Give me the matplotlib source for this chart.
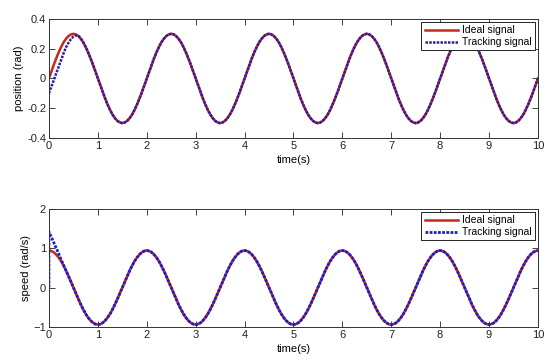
import numpy as np
import matplotlib
matplotlib.use('Agg')
import matplotlib.pyplot as plt

# 時間軸 (0.05 s 刻み)
t = np.arange(0, 201) * 0.05

# 位置 (rad) - 理想信号
pos_ideal = [
    0.000, 0.047, 0.093, 0.136, 0.176, 0.212, 0.243, 0.267, 0.285, 0.296, 0.300, 0.296, 0.285, 0.267, 0.243, 0.212, 0.176, 0.136, 0.093, 0.047,
    0.000, -0.047, -0.093, -0.136, -0.176, -0.212, -0.243, -0.267, -0.285, -0.296, -0.300, -0.296, -0.285, -0.267, -0.243, -0.212, -0.176, -0.136, -0.093, -0.047,
    0.000, 0.047, 0.093, 0.136, 0.176, 0.212, 0.243, 0.267, 0.285, 0.296, 0.300, 0.296, 0.285, 0.267, 0.243, 0.212, 0.176, 0.136, 0.093, 0.047,
    0.000, -0.047, -0.093, -0.136, -0.176, -0.212, -0.243, -0.267, -0.285, -0.296, -0.300, -0.296, -0.285, -0.267, -0.243, -0.212, -0.176, -0.136, -0.093, -0.047,
    0.000, 0.047, 0.093, 0.136, 0.176, 0.212, 0.243, 0.267, 0.285, 0.296, 0.300, 0.296, 0.285, 0.267, 0.243, 0.212, 0.176, 0.136, 0.093, 0.047,
    0.000, -0.047, -0.093, -0.136, -0.176, -0.212, -0.243, -0.267, -0.285, -0.296, -0.300, -0.296, -0.285, -0.267, -0.243, -0.212, -0.176, -0.136, -0.093, -0.047,
    0.000, 0.047, 0.093, 0.136, 0.176, 0.212, 0.243, 0.267, 0.285, 0.296, 0.300, 0.296, 0.285, 0.267, 0.243, 0.212, 0.176, 0.136, 0.093, 0.047,
    0.000, -0.047, -0.093, -0.136, -0.176, -0.212, -0.243, -0.267, -0.285, -0.296, -0.300, -0.296, -0.285, -0.267, -0.243, -0.212, -0.176, -0.136, -0.093, -0.047,
    0.000, 0.047, 0.093, 0.136, 0.176, 0.212, 0.243, 0.267, 0.285, 0.296, 0.300, 0.296, 0.285, 0.267, 0.243, 0.212, 0.176, 0.136, 0.093, 0.047,
    0.000, -0.047, -0.093, -0.136, -0.176, -0.212, -0.243, -0.267, -0.285, -0.296, -0.300, -0.296, -0.285, -0.267, -0.243, -0.212, -0.176, -0.136, -0.093, -0.047,
    0.000,
]

# 位置 (rad) - 追従信号
pos_track = [
    -0.100, -0.055, -0.010, 0.035, 0.080, 0.125, 0.170, 0.210, 0.240, 0.265, 0.282, 0.290, 0.288, 0.270, 0.245, 0.212, 0.176, 0.136, 0.093, 0.047,
    0.000, -0.047, -0.093, -0.136, -0.176, -0.212, -0.243, -0.267, -0.285, -0.296, -0.300, -0.296, -0.285, -0.267, -0.243, -0.212, -0.176, -0.136, -0.093, -0.047,
    0.000, 0.047, 0.093, 0.136, 0.176, 0.212, 0.243, 0.267, 0.285, 0.296, 0.300, 0.296, 0.285, 0.267, 0.243, 0.212, 0.176, 0.136, 0.093, 0.047,
    0.000, -0.047, -0.093, -0.136, -0.176, -0.212, -0.243, -0.267, -0.285, -0.296, -0.300, -0.296, -0.285, -0.267, -0.243, -0.212, -0.176, -0.136, -0.093, -0.047,
    0.000, 0.047, 0.093, 0.136, 0.176, 0.212, 0.243, 0.267, 0.285, 0.296, 0.300, 0.296, 0.285, 0.267, 0.243, 0.212, 0.176, 0.136, 0.093, 0.047,
    0.000, -0.047, -0.093, -0.136, -0.176, -0.212, -0.243, -0.267, -0.285, -0.296, -0.300, -0.296, -0.285, -0.267, -0.243, -0.212, -0.176, -0.136, -0.093, -0.047,
    0.000, 0.047, 0.093, 0.136, 0.176, 0.212, 0.243, 0.267, 0.285, 0.296, 0.300, 0.296, 0.285, 0.267, 0.243, 0.212, 0.176, 0.136, 0.093, 0.047,
    0.000, -0.047, -0.093, -0.136, -0.176, -0.212, -0.243, -0.267, -0.285, -0.296, -0.300, -0.296, -0.285, -0.267, -0.243, -0.212, -0.176, -0.136, -0.093, -0.047,
    0.000, 0.047, 0.093, 0.136, 0.176, 0.212, 0.243, 0.267, 0.285, 0.296, 0.300, 0.296, 0.285, 0.267, 0.243, 0.212, 0.176, 0.136, 0.093, 0.047,
    0.000, -0.047, -0.093, -0.136, -0.176, -0.212, -0.243, -0.267, -0.285, -0.296, -0.300, -0.296, -0.285, -0.267, -0.243, -0.212, -0.176, -0.136, -0.093, -0.047,
    0.000,
]

# 速度 (rad/s) - 理想信号
spd_ideal = [
    0.942, 0.930, 0.896, 0.839, 0.762, 0.668, 0.554, 0.428, 0.291, 0.147, 0.000, -0.147, -0.291, -0.428, -0.554, -0.668, -0.762, -0.839, -0.896, -0.930,
    -0.942, -0.930, -0.896, -0.839, -0.762, -0.668, -0.554, -0.428, -0.291, -0.147, 0.000, 0.147, 0.291, 0.428, 0.554, 0.668, 0.762, 0.839, 0.896, 0.930,
    0.942, 0.930, 0.896, 0.839, 0.762, 0.668, 0.554, 0.428, 0.291, 0.147, 0.000, -0.147, -0.291, -0.428, -0.554, -0.668, -0.762, -0.839, -0.896, -0.930,
    -0.942, -0.930, -0.896, -0.839, -0.762, -0.668, -0.554, -0.428, -0.291, -0.147, 0.000, 0.147, 0.291, 0.428, 0.554, 0.668, 0.762, 0.839, 0.896, 0.930,
    0.942, 0.930, 0.896, 0.839, 0.762, 0.668, 0.554, 0.428, 0.291, 0.147, 0.000, -0.147, -0.291, -0.428, -0.554, -0.668, -0.762, -0.839, -0.896, -0.930,
    -0.942, -0.930, -0.896, -0.839, -0.762, -0.668, -0.554, -0.428, -0.291, -0.147, 0.000, 0.147, 0.291, 0.428, 0.554, 0.668, 0.762, 0.839, 0.896, 0.930,
    0.942, 0.930, 0.896, 0.839, 0.762, 0.668, 0.554, 0.428, 0.291, 0.147, 0.000, -0.147, -0.291, -0.428, -0.554, -0.668, -0.762, -0.839, -0.896, -0.930,
    -0.942, -0.930, -0.896, -0.839, -0.762, -0.668, -0.554, -0.428, -0.291, -0.147, 0.000, 0.147, 0.291, 0.428, 0.554, 0.668, 0.762, 0.839, 0.896, 0.930,
    0.942, 0.930, 0.896, 0.839, 0.762, 0.668, 0.554, 0.428, 0.291, 0.147, 0.000, -0.147, -0.291, -0.428, -0.554, -0.668, -0.762, -0.839, -0.896, -0.930,
    -0.942, -0.930, -0.896, -0.839, -0.762, -0.668, -0.554, -0.428, -0.291, -0.147, 0.000, 0.147, 0.291, 0.428, 0.554, 0.668, 0.762, 0.839, 0.896, 0.930,
    0.942,
]

# 速度 (rad/s) - 追従信号 (t=0 で 0 から立ち上がる点を先頭に追加)
t_spd_track = np.r_[0.0, t]
spd_track = [
    0.000,
    1.420, 1.280, 1.140, 1.000, 0.860, 0.710, 0.570, 0.430, 0.290, 0.147, 0.000, -0.147, -0.291, -0.428, -0.554, -0.668, -0.762, -0.839, -0.896, -0.930,
    -0.942, -0.930, -0.896, -0.839, -0.762, -0.668, -0.554, -0.428, -0.291, -0.147, 0.000, 0.147, 0.291, 0.428, 0.554, 0.668, 0.762, 0.839, 0.896, 0.930,
    0.942, 0.930, 0.896, 0.839, 0.762, 0.668, 0.554, 0.428, 0.291, 0.147, 0.000, -0.147, -0.291, -0.428, -0.554, -0.668, -0.762, -0.839, -0.896, -0.930,
    -0.942, -0.930, -0.896, -0.839, -0.762, -0.668, -0.554, -0.428, -0.291, -0.147, 0.000, 0.147, 0.291, 0.428, 0.554, 0.668, 0.762, 0.839, 0.896, 0.930,
    0.942, 0.930, 0.896, 0.839, 0.762, 0.668, 0.554, 0.428, 0.291, 0.147, 0.000, -0.147, -0.291, -0.428, -0.554, -0.668, -0.762, -0.839, -0.896, -0.930,
    -0.942, -0.930, -0.896, -0.839, -0.762, -0.668, -0.554, -0.428, -0.291, -0.147, 0.000, 0.147, 0.291, 0.428, 0.554, 0.668, 0.762, 0.839, 0.896, 0.930,
    0.942, 0.930, 0.896, 0.839, 0.762, 0.668, 0.554, 0.428, 0.291, 0.147, 0.000, -0.147, -0.291, -0.428, -0.554, -0.668, -0.762, -0.839, -0.896, -0.930,
    -0.942, -0.930, -0.896, -0.839, -0.762, -0.668, -0.554, -0.428, -0.291, -0.147, 0.000, 0.147, 0.291, 0.428, 0.554, 0.668, 0.762, 0.839, 0.896, 0.930,
    0.942, 0.930, 0.896, 0.839, 0.762, 0.668, 0.554, 0.428, 0.291, 0.147, 0.000, -0.147, -0.291, -0.428, -0.554, -0.668, -0.762, -0.839, -0.896, -0.930,
    -0.942, -0.930, -0.896, -0.839, -0.762, -0.668, -0.554, -0.428, -0.291, -0.147, 0.000, 0.147, 0.291, 0.428, 0.554, 0.668, 0.762, 0.839, 0.896, 0.930,
    0.942,
]

x_ticks = list(range(0, 11))
pos_ticks = [-0.4, -0.2, 0, 0.2, 0.4]
pos_ticklabels = ['-0.4', '-0.2', '0', '0.2', '0.4']
spd_ticks = [-1, 0, 1, 2]

red = '#c42a1c'
blue_top = '#2a1ca8'
blue = '#1c1ccc'

plt.rcParams['font.family'] = ['Liberation Sans', 'DejaVu Sans']

fig = plt.figure(figsize=(5.5, 3.64), dpi=100)
ax1 = fig.add_axes([0.089, 0.621, 0.889, 0.327])
ax2 = fig.add_axes([0.089, 0.102, 0.889, 0.324])


def style(ax):
    ax.set_xlim(0, 10)
    ax.set_xticks(x_ticks)
    ax.tick_params(direction='in', length=4, width=0.6, top=True, right=True,
                   labelsize=8, pad=2, colors='#222222')
    for s in ax.spines.values():
        s.set_linewidth(0.7)
        s.set_color('#333333')
    ax.set_xlabel('time(s)', fontsize=8, labelpad=3)


# 上段: 位置
ax1.plot(t, pos_ideal, '-', color=red, lw=1.8, label='Ideal signal')
ax1.plot(t, pos_track, linestyle=(0, (1, 0.5)), color=blue_top, lw=1.8, label='Tracking signal')
style(ax1)
ax1.set_ylim(-0.4, 0.4)
ax1.set_yticks(pos_ticks)
ax1.set_yticklabels(pos_ticklabels)
ax1.set_ylabel('position (rad)', fontsize=8, labelpad=2)
leg1 = ax1.legend(loc='upper right', fontsize=7.5, handlelength=3.2, fancybox=False,
                  framealpha=1, edgecolor='#222222', borderaxespad=0.3,
                  borderpad=0.3, labelspacing=0.2, handletextpad=0.4)
leg1.get_frame().set_linewidth(0.7)

# 下段: 速度
ax2.plot(t, spd_ideal, '-', color=red, lw=1.8, label='Ideal signal')
ax2.plot(t_spd_track, spd_track, linestyle=(0, (1, 0.5)), color=blue, lw=2.0,
         label='Tracking signal')
style(ax2)
ax2.set_ylim(-1, 2)
ax2.set_yticks(spd_ticks)
ax2.set_ylabel('speed (rad/s)', fontsize=8, labelpad=2)
leg2 = ax2.legend(loc='upper right', fontsize=7.5, handlelength=3.2, fancybox=False,
                  framealpha=1, edgecolor='#222222', borderaxespad=0.3,
                  borderpad=0.3, labelspacing=0.2, handletextpad=0.4)
leg2.get_frame().set_linewidth(0.7)

fig.savefig('out.png', dpi=100)
